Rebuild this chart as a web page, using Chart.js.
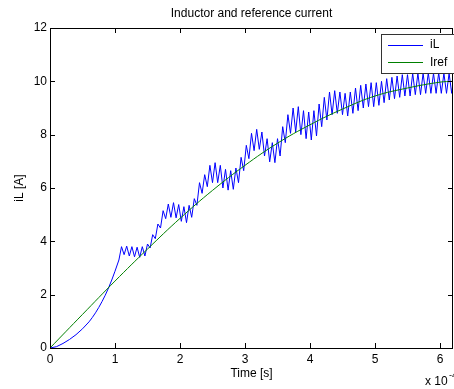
<!DOCTYPE html>
<html>
<head>
<meta charset="utf-8">
<script src="https://cdn.jsdelivr.net/npm/chart.js@4/dist/chart.umd.min.js"></script>
<style>
  html, body { margin: 0; padding: 0; background: #fff; }
  #wrap { width: 454px; height: 389px; }
</style>
</head>
<body>
<div id="wrap"><canvas id="currentChart" width="454" height="389"></canvas></div>
<script>
// Valores (tempo em unidades de 1e-4 s)
const xTicks = [0, 1, 2, 3, 4, 5, 6];
const yTicks = [0, 2, 4, 6, 8, 10, 12];

// Corrente de referência
const refTime  = [0, 0.5, 1.0, 1.5, 2.0, 2.5, 3.0, 3.5, 4.0, 4.5, 5.0, 5.5, 6.0, 6.2];
const refValue = [0, 1.26, 2.51, 3.71, 4.86, 5.91, 6.85, 7.68, 8.37, 8.96, 9.45, 9.75, 9.97, 10.0];

// Corrente no indutor (subida inicial + ondulação de chaveamento)
const ilTime = [
  0, 0.1, 0.2, 0.3, 0.4, 0.5, 0.6, 0.65, 0.7, 0.75, 0.8, 0.85, 0.9, 0.95, 1.0, 1.06,
  1.10, 1.14, 1.18, 1.22, 1.26, 1.30, 1.34, 1.38, 1.42, 1.46,
  1.50, 1.54, 1.58, 1.62, 1.66, 1.70, 1.74, 1.78, 1.82, 1.86,
  1.90, 1.94, 1.98, 2.02, 2.06, 2.10, 2.14, 2.18, 2.22, 2.26,
  2.30, 2.34, 2.38, 2.42, 2.46, 2.50, 2.54, 2.58, 2.62, 2.66,
  2.70, 2.74, 2.78, 2.82, 2.86, 2.90, 2.94, 2.98, 3.02, 3.06,
  3.10, 3.14, 3.18, 3.22, 3.26, 3.30, 3.34, 3.38, 3.42, 3.46,
  3.50, 3.54, 3.58, 3.62, 3.66, 3.70, 3.74, 3.78, 3.82, 3.86,
  3.90, 3.94, 3.98, 4.02, 4.06, 4.10, 4.14, 4.18, 4.22, 4.26,
  4.30, 4.34, 4.38, 4.42, 4.46, 4.50, 4.54, 4.58, 4.62, 4.66,
  4.70, 4.74, 4.78, 4.82, 4.86, 4.90, 4.94, 4.98, 5.02, 5.06,
  5.10, 5.14, 5.18, 5.22, 5.26, 5.30, 5.34, 5.38, 5.42, 5.46,
  5.50, 5.54, 5.58, 5.62, 5.66, 5.70, 5.74, 5.78, 5.82, 5.86,
  5.90, 5.94, 5.98, 6.02, 6.06, 6.10, 6.14, 6.18, 6.22
];
const ilValue = [
  0, 0.05, 0.17, 0.32, 0.50, 0.72, 0.98, 1.14, 1.32, 1.52, 1.74, 1.98, 2.25, 2.55, 2.88, 3.30,
  3.80, 3.50, 3.82, 3.45, 3.80, 3.42, 3.78, 3.40, 3.80, 3.45,
  3.90, 3.75, 4.25, 4.10, 4.65, 4.50, 5.15, 4.85, 5.40, 4.90,
  5.45, 4.88, 5.38, 4.75, 5.30, 4.70, 5.35, 4.90, 5.60, 5.35,
  6.20, 5.80, 6.50, 6.05, 6.85, 6.20, 6.95, 6.20, 6.85, 6.00,
  6.70, 5.92, 6.65, 5.95, 6.75, 6.20, 7.15, 6.65, 7.60, 7.10,
  8.05, 7.40, 8.20, 7.45, 8.10, 7.20, 7.85, 6.98, 7.70, 6.95,
  7.85, 7.20, 8.30, 7.70, 8.75, 8.05, 9.00, 8.10, 9.05, 8.00,
  8.90, 7.85, 8.85, 7.80, 8.90, 7.95, 9.15, 8.30, 9.40, 8.55,
  9.60, 8.75, 9.65, 8.80, 9.60, 8.75, 9.55, 8.70, 9.60, 8.80,
  9.75, 8.90, 9.85, 9.00, 9.90, 9.05, 9.95, 9.05, 9.95, 9.10,
  10.00, 9.20, 10.10, 9.30, 10.15, 9.35, 10.20, 9.40, 10.25, 9.45,
  10.25, 9.45, 10.30, 9.50, 10.30, 9.50, 10.30, 9.55, 10.32, 9.55,
  10.30, 9.55, 10.32, 9.55, 10.30, 9.55, 10.30, 9.55, 10.30
];

const FONT = "Liberation Sans, Arial, Helvetica, sans-serif";

function pairs(xs, ys) {
    return xs.map(function(x, i) { return { x: x, y: ys[i] }; });
}

// Caixa, marcas internas, textos e legenda no estilo MATLAB
const matlabFrame = {
    id: 'matlabFrame',
    afterDraw: function(chart) {
        const ctx = chart.ctx;
        const a = chart.chartArea;
        const sx = chart.scales.x;
        const sy = chart.scales.y;
        ctx.save();
        ctx.strokeStyle = '#000';
        ctx.lineWidth = 1;
        ctx.beginPath();
        ctx.rect(a.left + 0.5, a.top + 0.5, a.right - a.left - 1, a.bottom - a.top);
        xTicks.forEach(function(v) {
            const px = Math.round(sx.getPixelForValue(v)) + 0.5;
            ctx.moveTo(px, a.bottom); ctx.lineTo(px, a.bottom - 5);
            ctx.moveTo(px, a.top); ctx.lineTo(px, a.top + 5);
        });
        yTicks.forEach(function(v) {
            const py = Math.round(sy.getPixelForValue(v)) + 0.5;
            ctx.moveTo(a.left, py); ctx.lineTo(a.left + 5, py);
            ctx.moveTo(a.right, py); ctx.lineTo(a.right - 5, py);
        });
        ctx.stroke();

        const cx = (a.left + a.right) / 2;
        ctx.fillStyle = '#000';
        ctx.font = '12px ' + FONT;
        ctx.textAlign = 'center';
        ctx.textBaseline = 'middle';
        ctx.fillText('Inductor and reference current', cx, 14);
        ctx.fillText('Time [s]', cx, 374);

        ctx.save();
        ctx.translate(20, (a.top + a.bottom) / 2);
        ctx.rotate(-Math.PI / 2);
        ctx.fillText('iL [A]', 0, 0);
        ctx.restore();

        ctx.textAlign = 'left';
        ctx.fillText('x 10', 425, 382);
        ctx.font = '9px ' + FONT;
        ctx.fillText('-4', 449, 376);

        // Legenda
        ctx.fillStyle = '#fff';
        ctx.fillRect(381, 34, 80, 39);
        ctx.strokeStyle = '#333';
        ctx.strokeRect(381.5, 34.5, 80, 39);
        ctx.lineWidth = 1;
        ctx.strokeStyle = '#0000ff';
        ctx.beginPath(); ctx.moveTo(388, 45.5); ctx.lineTo(423, 45.5); ctx.stroke();
        ctx.strokeStyle = '#008000';
        ctx.beginPath(); ctx.moveTo(388, 62.5); ctx.lineTo(423, 62.5); ctx.stroke();
        ctx.fillStyle = '#000';
        ctx.font = '12px ' + FONT;
        ctx.fillText('iL', 430, 45);
        ctx.fillText('Iref', 430, 63);
        ctx.restore();
    }
};

new Chart(document.getElementById('currentChart').getContext('2d'), {
    type: 'line',
    data: {
        datasets: [{
            label: 'iL',
            data: pairs(ilTime, ilValue),
            borderColor: '#0000ff',
            borderWidth: 1,
            pointRadius: 0,
            tension: 0,
            order: 2
        }, {
            label: 'Iref',
            data: pairs(refTime, refValue),
            borderColor: '#008000',
            borderWidth: 1,
            pointRadius: 0,
            tension: 0.4,
            order: 1
        }]
    },
    options: {
        responsive: false,
        animation: false,
        layout: { padding: { top: 28, right: 1, left: 0, bottom: 0 } },
        plugins: {
            legend: { display: false },
            title: { display: false },
            tooltip: { enabled: false }
        },
        scales: {
            x: {
                type: 'linear',
                min: 0,
                max: 6.2,
                grid: { display: false, drawTicks: false },
                border: { display: false },
                afterBuildTicks: function(scale) {
                    scale.ticks = xTicks.map(function(v) { return { value: v }; });
                },
                afterFit: function(scale) { scale.height = 41; },
                ticks: {
                    padding: 4,
                    color: '#000',
                    maxRotation: 0,
                    font: { family: FONT, size: 12 }
                }
            },
            y: {
                min: 0,
                max: 12,
                grid: { display: false, drawTicks: false },
                border: { display: false },
                afterBuildTicks: function(scale) {
                    scale.ticks = yTicks.map(function(v) { return { value: v }; });
                },
                afterFit: function(scale) { scale.width = 50; },
                ticks: {
                    padding: 3,
                    color: '#000',
                    font: { family: FONT, size: 12 }
                }
            }
        }
    },
    plugins: [matlabFrame]
});
</script>
</body>
</html>
